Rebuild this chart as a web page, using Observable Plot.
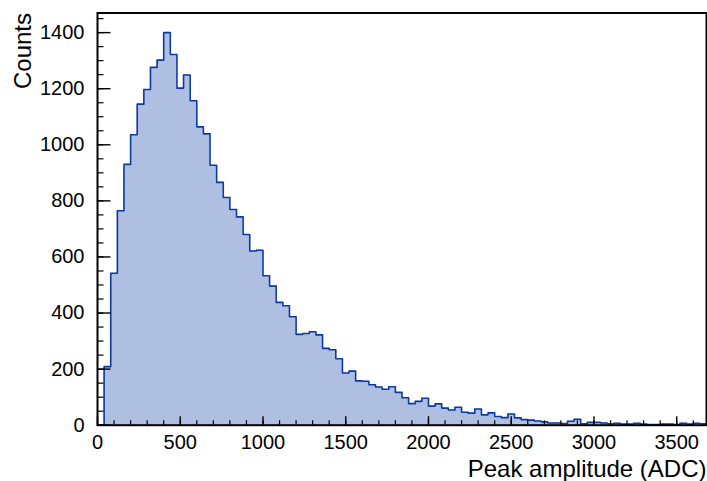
<!DOCTYPE html>
<html><head><meta charset="utf-8">
<script src="https://cdn.jsdelivr.net/npm/d3@7"></script>
<script src="https://cdn.jsdelivr.net/npm/@observablehq/plot@0.6"></script>
<style>body{margin:0;background:#fff} svg{display:block}</style>
</head><body><div id="chart"></div>
<script>
// Histogram binning (ADC)
const binStart = 0;
const binWidth = 40;
// Counts per 40-ADC bin, starting at 0
const counts = [
  0, 209, 542, 765, 930, 1036, 1145, 1197, 1276, 1302,
  1400, 1322, 1202, 1249, 1157, 1064, 1039, 927, 866, 812,
  769, 743, 680, 621, 624, 533, 496, 438, 426, 387,
  324, 327, 333, 322, 274, 269, 237, 186, 193, 158,
  157, 144, 136, 128, 137, 117, 98, 77, 85, 96,
  68, 76, 61, 54, 64, 46, 43, 58, 37, 44,
  31, 27, 40, 26, 20, 18, 15, 12, 8, 8,
  6, 14, 21, 5, 10, 10, 8, 5, 7, 4,
  4, 7, 4, 2, 2, 4, 4, 2, 7, 4,
  7, 5
];
const xTicks = [0, 500, 1000, 1500, 2000, 2500, 3000, 3500];
const yTicks = [0, 200, 400, 600, 800, 1000, 1200, 1400];
const xMinorTicks = d3.range(0, 3700, 100);
const yMinorTicks = d3.range(0, 1470, 50);
const xDomain = [0, 3680];
const yDomain = [0, 1470];
const xTitle = "Peak amplitude (ADC)";
const yTitle = "Counts";

// step outline points built from the bins
const steps = [];
counts.forEach((c, i) => {
  const x0 = binStart + i * binWidth;
  steps.push({x: x0, y: c});
  steps.push({x: x0 + binWidth, y: c});
});

const W = 707, H = 481, ML = 97, MR = 1, MT = 12.5, MB = 56.3;
const PW = W - ML - MR, PH = H - MT - MB;

const font = "'Liberation Sans', Arial, Helvetica, sans-serif";
const fill = "#afbfe1";
const stroke = "#0a3aa6";

const chart = Plot.plot({
  width: W,
  height: H,
  marginLeft: ML,
  marginRight: MR,
  marginTop: MT,
  marginBottom: MB,
  style: {fontFamily: font, background: "#fff", color: "#000"},
  x: {domain: xDomain, axis: null},
  y: {domain: yDomain, axis: null},
  marks: [
    Plot.area(steps, {x1: "x", y1: 0, y2: "y", fill: fill}),
    Plot.line(steps, {x: "x", y: "y", stroke: stroke, strokeWidth: 1.6}),
    // minor ticks (inward)
    Plot.tickX(xMinorTicks, {x: d => d, insetTop: PH - 4.5, stroke: "#000", strokeWidth: 1.2}),
    Plot.tickY(yMinorTicks, {y: d => d, insetRight: PW - 6.5, stroke: "#000", strokeWidth: 1.2}),
    // major ticks (inward)
    Plot.tickX(xTicks, {x: d => d, insetTop: PH - 8.5, stroke: "#000", strokeWidth: 1.4}),
    Plot.tickY(yTicks, {y: d => d, insetRight: PW - 13.5, stroke: "#000", strokeWidth: 1.4}),
    // tick labels
    Plot.axisX(xTicks, {tickSize: 0, tickPadding: 10, fontSize: 20, label: null, tickFormat: d => String(d)}),
    Plot.axisY(yTicks, {tickSize: 0, tickPadding: 13, fontSize: 20, label: null, tickFormat: d => String(d)}),
    Plot.frame({stroke: "#000", strokeWidth: 2}),
    // axis titles
    Plot.text([xTitle], {frameAnchor: "bottom-right", textAnchor: "end", lineAnchor: "bottom", dy: 52, fontSize: 24, fill: "#000"}),
    Plot.text([yTitle], {frameAnchor: "top-left", rotate: -90, textAnchor: "end", lineAnchor: "bottom", dx: -67, fontSize: 24, fill: "#000"})
  ]
});
document.getElementById("chart").appendChild(chart);
</script>
</body></html>
